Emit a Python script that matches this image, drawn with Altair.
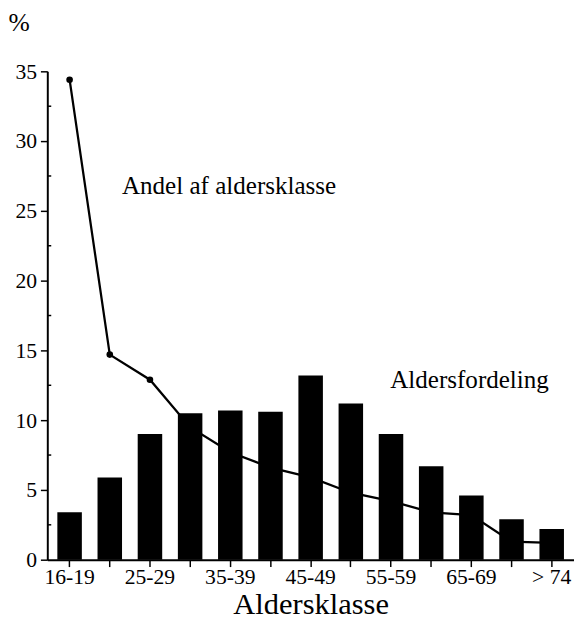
import altair as alt
import pandas as pd

categories = ["16-19", "20-24", "25-29", "30-34", "35-39", "40-44", "45-49",
              "50-54", "55-59", "60-64", "65-69", "70-74", "> 74"]
aldersfordeling = [3.4, 5.9, 9.0, 10.5, 10.7, 10.6, 13.2, 11.2, 9.0, 6.7, 4.6, 2.9, 2.2]
andel = [34.4, 14.7, 12.9, 9.5, 7.7, 6.6, 5.9, 4.8, 4.2, 3.4, 3.2, 1.3, 1.2]
shown_labels = ["16-19", "25-29", "35-39", "45-49", "55-59", "65-69", "> 74"]
y_ticks = [0, 5, 10, 15, 20, 25, 30, 35]
minor_ticks = [2.5, 7.5, 12.5, 17.5, 22.5, 27.5, 32.5]

FONT = "Liberation Serif"

df = pd.DataFrame({"klasse": categories, "fordeling": aldersfordeling, "andel": andel})
minor_df = pd.DataFrame({"v": minor_ticks})

label_expr = "indexof(" + str(shown_labels).replace("'", '"') + ", datum.value) >= 0 ? datum.value : ''"

x = alt.X("klasse:N", sort=categories,
          scale=alt.Scale(paddingInner=0.39, paddingOuter=0.25),
          axis=alt.Axis(title="Aldersklasse", labelAngle=0, labelExpr=label_expr,
                        labelOverlap=False, labelFont=FONT, labelFontSize=22,
                        labelColor="black", tickColor="black", domainColor="black",
                        domainWidth=2, tickWidth=1.5, tickSize=7, labelPadding=0,
                        titleFont=FONT, titleFontSize=31, titleFontWeight="normal",
                        titleColor="black", titlePadding=3))
y_scale = alt.Scale(domain=[0, 35], nice=False)
y_axis = alt.Axis(title="%", values=y_ticks, grid=False, labelFont=FONT,
                  labelFontSize=22, labelColor="black", tickColor="black",
                  domainColor="black", domainWidth=2, tickWidth=1.5, tickSize=7,
                  labelPadding=4, titleAngle=0, titleAlign="left",
                  titleBaseline="alphabetic", titleX=-40, titleY=-42,
                  titleFont=FONT, titleFontSize=26, titleFontWeight="normal",
                  titleColor="black")

base = alt.Chart(df)
line = base.mark_line(color="black", strokeWidth=2.3).encode(
    x=x, y=alt.Y("andel:Q", scale=y_scale, axis=y_axis))
points = base.mark_circle(color="black", size=45, opacity=1).encode(
    x=x, y=alt.Y("andel:Q", scale=y_scale, axis=y_axis))
bars = base.mark_bar(color="black").encode(
    x=x, y=alt.Y("fordeling:Q", scale=y_scale, axis=y_axis))
minor = alt.Chart(minor_df).mark_rule(color="black", strokeWidth=1.5).encode(
    x=alt.value(0), x2=alt.value(4), y=alt.Y("v:Q", scale=y_scale, axis=y_axis))

txt1 = alt.Chart(pd.DataFrame({"t": ["Andel af aldersklasse"]})).mark_text(
    font=FONT, fontSize=25.5, align="left", baseline="middle", color="black"
).encode(text="t:N", x=alt.value(76), y=alt.value(117))
txt2 = alt.Chart(pd.DataFrame({"t": ["Aldersfordeling"]})).mark_text(
    font=FONT, fontSize=25.5, align="left", baseline="middle", color="black"
).encode(text="t:N", x=alt.value(349), y=alt.value(314))

chart = alt.layer(line, points, bars, minor, txt1, txt2).properties(
    width=536, height=497, background="white",
    padding={"left": 0, "top": -4, "right": 0, "bottom": 0},
).configure_view(stroke=None).configure_axis(grid=False)

chart.save("out.html", embed_options={"renderer": "svg", "actions": False})
